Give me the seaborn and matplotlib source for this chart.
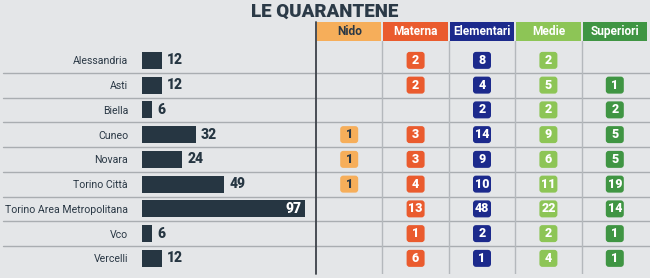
import numpy as np
import pandas as pd
import matplotlib
matplotlib.use("Agg")
import matplotlib.pyplot as plt
import seaborn as sns
from matplotlib.patches import FancyBboxPatch, Rectangle

# ---------------- data ----------------
provinces = ["Alessandria", "Asti", "Biella", "Cuneo", "Novara", "Torino Città",
             "Torino Area Metropolitana", "Vco", "Vercelli"]
totals = [12, 12, 6, 32, 24, 49, 97, 6, 12]
levels = ["Nido", "Materna", "Elementari", "Medie", "Superiori"]
nido = [None, None, None, 1, 1, 1, None, None, None]
materna = [2, 2, None, 3, 3, 4, 13, 1, 6]
elementari = [8, 4, 2, 14, 9, 10, 48, 2, 1]
medie = [2, 5, 2, 9, 6, 11, 22, 2, 4]
superiori = [None, 1, 2, 5, 5, 19, 14, 1, 1]
title = "LE QUARANTENE"

level_colors = ["#f6ae5a", "#ea5b2e", "#1c2a8c", "#8dc556", "#3f9543"]
level_text = ["#2a3845", "white", "white", "white", "white"]

BG = "#e4e6e8"
DARK = "#263642"

sns.set_theme(style="white")
plt.rcParams["font.family"] = ["Roboto", "DejaVu Sans"]

W, H = 650, 278
fig = plt.figure(figsize=(W / 100, H / 100), dpi=100, facecolor=BG)

# vertical layout in pixels
TOP_PX = 22
ROW0_TOP = 48
ROW_H = 24.75
BOT_PX = 274
n = len(provinces)
y_top = -0.5 - (ROW0_TOP - TOP_PX) / ROW_H
y_bot = n - 0.5 + (BOT_PX - (ROW0_TOP + n * ROW_H)) / ROW_H
ax_bottom = 1 - BOT_PX / H
ax_height = (BOT_PX - TOP_PX) / H

# background axes (full width) for row separators
ax_bg = fig.add_axes([0, ax_bottom, 1, ax_height])
ax_bg.set_xlim(0, W)
ax_bg.set_ylim(y_bot, y_top)
ax_bg.axis("off")
for i in range(n - 1):
    ax_bg.axhline(i + 0.5, xmin=3 / W, xmax=1, color="#a9adb1", lw=1.0)

# ---------------- bars ----------------
BAR_L, BAR_R = 142, 316
px_per_unit = (305 - 142) / 97
ax_bar = fig.add_axes([BAR_L / W, ax_bottom, (BAR_R - BAR_L) / W, ax_height])
df = pd.DataFrame({"provincia": provinces, "totale": totals})
sns.barplot(data=df, x="totale", y="provincia", orient="h", color=DARK,
            saturation=1, width=0.68, linewidth=0, edgecolor=DARK, ax=ax_bar)
ax_bar.set_xlim(0, (BAR_R - BAR_L) / px_per_unit)
ax_bar.set_ylim(y_bot, y_top)
ax_bar.patch.set_alpha(0)
for s in ax_bar.spines.values():
    s.set_visible(False)
ax_bar.set_xlabel("")
ax_bar.set_ylabel("")
ax_bar.set_xticks([])
ax_bar.tick_params(axis="y", left=False, pad=4, labelsize=7.6, labelcolor="#2a3845")
for i, v in enumerate(totals):
    if v >= 90:
        ax_bar.text(v - 3 / px_per_unit, i, str(v), ha="right", va="center",
                    fontsize=10, fontweight="heavy", color="white")
    else:
        ax_bar.text(v + 5 / px_per_unit, i, str(v), ha="left", va="center",
                    fontsize=10, fontweight="heavy", color=DARK)

# ---------------- table ----------------
TAB_L, TAB_R = 316, 648
ax_t = fig.add_axes([TAB_L / W, ax_bottom, (TAB_R - TAB_L) / W, ax_height])
ax_t.set_xlim(-0.5, 4.5)
ax_t.set_ylim(y_bot, y_top)
ax_t.axis("off")
col_px = (TAB_R - TAB_L) / 5
aspect = col_px / ROW_H

hdr_top = y_top
hdr_bot = -0.5 - (ROW0_TOP - 41) / ROW_H
for j, (lev, c, tc) in enumerate(zip(levels, level_colors, level_text)):
    gap = 1 / col_px
    ax_t.add_patch(Rectangle((j - 0.5 + gap, hdr_bot), 1 - 2 * gap, hdr_top - hdr_bot,
                             facecolor=c, edgecolor="none", clip_on=False))
    ax_t.text(j, (hdr_top + hdr_bot) / 2, lev, ha="center", va="center",
              fontsize=8.6, fontweight="bold", color=tc)

# column separators
for j in range(1, 5):
    ax_t.plot([j - 0.5, j - 0.5], [hdr_bot, y_bot], color="#b4b8bc", lw=1.0)
# left dark line
ax_t.plot([-0.5, -0.5], [y_top, y_bot], color="#3c4249", lw=1.3, clip_on=False)

series = [nido, materna, elementari, medie, superiori]
bw = 18 / col_px
bh = 17 / ROW_H
rr = 3 / col_px
for j, vals in enumerate(series):
    for i, v in enumerate(vals):
        if v is None:
            continue
        ax_t.add_patch(FancyBboxPatch((j - bw / 2, i - bh / 2), bw, bh,
                                      boxstyle=f"round,pad=0,rounding_size={rr}",
                                      mutation_aspect=aspect,
                                      facecolor=level_colors[j], edgecolor="none"))
        ax_t.text(j, i, str(v), ha="center", va="center", fontsize=9,
                  fontweight="heavy", color=level_text[j])

fig.text(0.5, 1 - 12 / H, title, ha="center", va="center", fontsize=13.5,
         fontweight="heavy", color="#2b3a47")

fig.savefig("out.png", dpi=100, facecolor=BG)
